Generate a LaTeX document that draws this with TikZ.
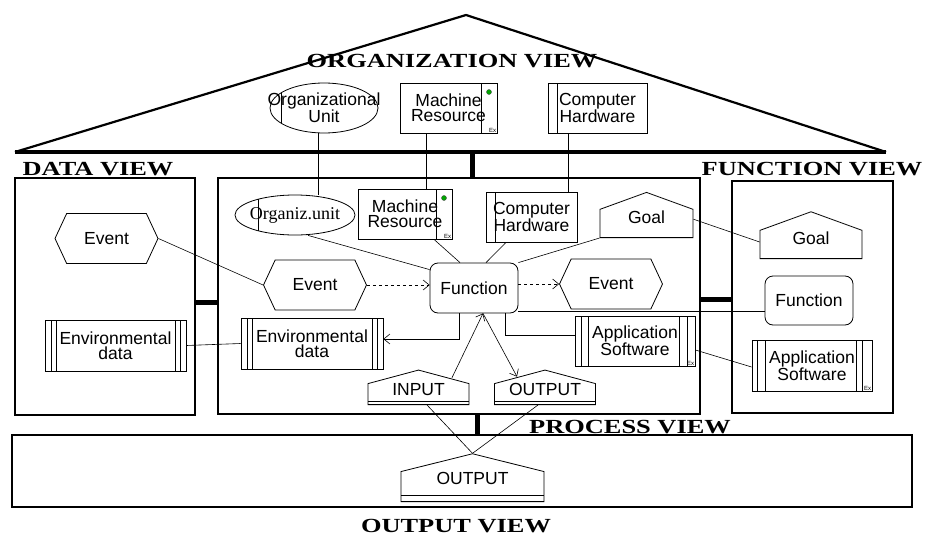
\documentclass[tikz,border=0pt]{standalone}
\usepackage{fontspec}
\setmainfont{Liberation Sans}
\newfontfamily\viewfont{Liberation Serif}[FakeStretch=1.32]
\newfontfamily\unitfont{Liberation Serif}
\usetikzlibrary{shapes.geometric,shapes.symbols,arrows.meta}

\tikzset{
	view/.style={draw, line width=2pt, inner sep=0pt},
	bus/.style={line width=5pt},
	viewname/.style={font=\viewfont\bfseries\fontsize{20}{20}\selectfont, inner sep=0pt},
	objfont/.style={font=\fontsize{17.5}{15}\selectfont},
	obj/.style={draw, line width=0.8pt, inner sep=0pt, align=center, objfont},
	link/.style={line width=0.6pt},
	flow/.style={link, -{Straight Barb[length=6pt,width=10pt]}},
	event/.style={obj, signal, signal to=west and east, signal pointer angle=130, minimum width=103pt, minimum height=50pt},
	goal/.style={obj, signal, signal to=north, signal pointer angle=140, minimum width=#1, minimum height=35pt, text height=12pt, text depth=12pt},
	func/.style={obj, rounded corners=8pt, minimum width=88pt, minimum height=50pt},
	iobox/.style 2 args={obj, signal, signal to=north, signal pointer angle=#1, text height=12pt, path picture={
		\draw ([yshift=#2]path picture bounding box.south west) -- ([yshift=#2]path picture bounding box.south east);}},
	ounit/.style={obj, ellipse, path picture={
		\draw ([xshift=#1]path picture bounding box.north west) -- ([xshift=#1]path picture bounding box.south west);}},
	mres/.style={obj, minimum height=50pt, path picture={
		\draw ([xshift=-16pt]path picture bounding box.north east) -- ([xshift=-16pt]path picture bounding box.south east);
		\filldraw[fill=green!65!black, draw=black!70, line width=0.4pt] ([shift={(-8pt,-9pt)}]path picture bounding box.north east) circle (2.5pt);}},
	hware/.style={obj, minimum height=50pt, path picture={
		\draw ([xshift=9.5pt]path picture bounding box.north west) -- ([xshift=9.5pt]path picture bounding box.south west);}},
	store/.style 2 args={obj, minimum height=51pt, path picture={
		\foreach \d in {#1}
		\draw ([xshift=\d pt]path picture bounding box.north west) -- ([xshift=\d pt]path picture bounding box.south west);
		\foreach \d in {#2}
		\draw ([xshift=-\d pt]path picture bounding box.north east) -- ([xshift=-\d pt]path picture bounding box.south east);}},
	exmark/.style={font=\fontsize{6}{6}\selectfont, inner sep=1pt, anchor=south east}
}

\begin{document}
\begin{tikzpicture}[x=1pt, y=-1pt]
	\useasboundingbox (0,0) rectangle (926,535);
	% roof
	\coordinate (rl) at (15,152);
	\coordinate (rt) at (466,15);
	\coordinate (rr) at (886,152);
	\draw[line width=2.2pt, line join=round] (rl) -- (rt) -- (rr);
	\draw[line width=3.5pt] (rl) -- (rr);
	\node[viewname] (orgname) at (452,61) {ORGANIZATION VIEW};

	\node[obj, ounit=11pt, minimum width=108pt, minimum height=50pt, label={[align=center, objfont]center:Organizational\\Unit}] (ou) at (324,108) {};
	\node[mres, minimum width=97pt] (mr) at (448.5,108) {Machine\\Resource};
	\node[exmark] (mrex) at (mr.south east) {Ex};
	\node[hware, minimum width=99pt] (ch) at (597.5,108) {Computer\\Hardware};

	% views
	\node[view, minimum width=180pt, minimum height=237pt] (dv) at (105,296.5) {};
	\node[view, minimum width=482pt, minimum height=236pt] (pv) at (459,296) {};
	\node[view, minimum width=161pt, minimum height=232pt] (fv) at (812.5,297) {};
	\node[view, minimum width=900pt, minimum height=72pt] (ov) at (462,471) {};
	\node[viewname] (dataname) at (98,169) {DATA VIEW};
	\node[viewname] (funcname) at (812,169) {FUNCTION VIEW};
	\node[viewname] (procname) at (630,427) {PROCESS VIEW};
	\node[viewname] (outname) at (456,526) {OUTPUT VIEW};

	\coordinate (rbus) at (472,152);
	\coordinate (dbus) at (0,302);
	\coordinate (fbus) at (0,299);
	\coordinate (obus) at (477,0);
	\draw[bus] (rbus) -- (rbus |- pv.north);
	\draw[bus] (dbus -| dv.east) -- (dbus -| pv.west);
	\draw[bus] (fbus -| pv.east) -- (fbus -| fv.west);
	\draw[bus] (obus |- pv.south) -- (obus |- ov.north);

	% data view
	\node[event] (evd) at (106.5,238.5) {Event};
	\node[store={6,11}{6,11}, minimum width=141pt] (envd) at (115.5,345.5) {Environmental\\data};

	% process view
	\node[obj, ounit=23pt, minimum width=120pt, minimum height=40pt, label={[font=\unitfont\fontsize{18}{18}\selectfont]center:Organiz.unit}] (oup) at (295,215) {};
	\node[mres, minimum width=94pt] (mrp) at (405,214) {Machine\\Resource};
	\node[exmark] (mrpex) at (mrp.south east) {Ex};
	\node[hware, minimum width=91pt] (chp) at (531.5,217) {Computer\\Hardware};
	\node[goal=93pt, anchor=south] (goalp) at (646.5,238) {Goal};
	\node[func] (fn) at (474,288) {Function};
	\node[event] (evl) at (315,285) {Event};
	\node[event] (evr) at (611,284) {Event};
	\node[store={6,11}{6,11}, minimum width=142pt] (envp) at (312,343.5) {Environmental\\data};
	\node[store={6,13}{8,16}, minimum width=120pt, minimum height=50pt] (appp) at (635,341) {Application\\Software};
	\node[exmark] (appex) at (appp.south east) {Ex};
	\node[iobox={150}{3pt}, minimum width=101pt, minimum height=23pt, text depth=9pt, anchor=south] (inp) at (418.5,405) {INPUT};
	\node[iobox={150}{3pt}, minimum width=101pt, minimum height=23pt, text depth=9pt, anchor=south] (outp) at (545,405) {OUTPUT};

	% function view
	\node[goal=102pt, anchor=south] (goalf) at (811,259) {Goal};
	\node[func, minimum height=49pt] (fnf) at (809,300.5) {Function};
	\node[store={5,13}{10,16}, minimum width=120pt] (appf) at (812,365.5) {Application\\Software};
	\node[exmark] (appfex) at (appf.south east) {Ex};

	% output view
	\node[iobox={152}{6pt}, minimum width=143pt, minimum height=39pt, text depth=16pt, anchor=south] (outo) at (472.5,502) {OUTPUT};

	% links
	\draw[link] ([xshift=-6pt]ou.south) -- ([xshift=-6pt]ou.south |- oup.north);
	\draw[link] ([xshift=-22.5pt]mr.south) -- ([xshift=-22.5pt]mr.south |- mrp.north);
	\draw[link] ([xshift=-29.5pt]ch.south) -- ([xshift=-29.5pt]ch.south |- chp.north);
	\draw[link] ([xshift=13pt]oup.south) -- ([yshift=-7pt]fn.north west);
	\draw[link] ([xshift=29pt]mrp.south) -- ([xshift=-14pt]fn.north);
	\draw[link] ([xshift=-25.5pt]chp.south) -- ([xshift=12pt]fn.north);
	\draw[link] (fn.north east) -- (goalp.south west);
	\draw[link] ([yshift=18pt]goalp.south east) -- ([yshift=17pt]goalf.south west);
	\draw[link] (evd.east) -- (evl.west);
	\draw[link] (envd.east) -- (envp.west);
	\draw[flow, dashed] (evl.east) -- (evl.east -| fn.west);
	\draw[flow, dashed] (fn.east |- evr.west) -- (evr.west);
	\draw[flow, {Straight Barb[length=6pt,width=10pt]}-] ([yshift=4.5pt]envp.east) -| ([xshift=-15pt]fn.south);
	\draw[flow] ([xshift=33.5pt,yshift=-8pt]inp.north) -- ([xshift=9pt]fn.south);
	\draw[flow] ([xshift=9pt]fn.south) -- ([xshift=-28pt,yshift=-7pt]outp.north);
	\draw[link] ([xshift=31pt]fn.south) |- ([yshift=6pt]appp.west);
	\draw[link] ([yshift=-11pt]fnf.west) -- ([yshift=-11pt]fnf.west -| fn.east);
	\draw[link] ([yshift=-9pt]appp.east) -- ([yshift=-1.5pt]appf.west);
	\draw[link] ([xshift=8.5pt]inp.south) -- (outo.north);
	\draw[link] ([xshift=-7pt]outp.south) -- (outo.north);
\end{tikzpicture}
\end{document}
